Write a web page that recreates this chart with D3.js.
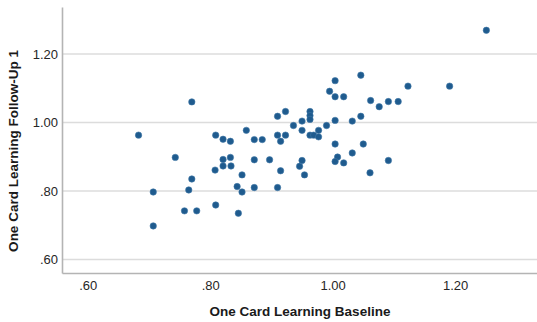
<!DOCTYPE html>
<html>
<head>
<meta charset="utf-8">
<script src="https://cdn.jsdelivr.net/npm/d3@7"></script>
<style>
  html, body { margin: 0; padding: 0; background: #fff; }
  svg { display: block; }
  text { font-family: "Liberation Sans", Arial, sans-serif; }
</style>
</head>
<body>
<svg id="chart" width="537" height="322"></svg>
<script>
// One Card Learning: baseline vs. follow-up 1 scores
const baseline = [
  1.251, 1.046, 1.004, 1.123, 1.191, 0.995, 1.004, 1.018, 1.062, 1.091,
  1.107, 1.076, 0.923, 0.963, 0.963, 0.910, 1.046, 0.963, 0.950, 1.004,
  1.032, 0.936, 0.990, 0.977, 0.950, 0.859, 0.910, 0.923, 0.963, 0.969,
  0.977, 0.915, 1.004, 1.050, 0.872, 0.885, 0.833, 0.821, 0.809, 0.683,
  0.770, 1.032, 1.008, 0.743, 0.821, 0.833, 0.872, 0.897, 0.950, 0.946,
  1.091, 1.004, 1.018, 1.061, 0.915, 0.954, 0.821, 0.834, 0.808, 0.852,
  0.770, 0.844, 0.872, 0.910, 0.852, 0.707, 0.765, 0.809, 0.758, 0.778,
  0.846, 0.707
];
const followUp1 = [
  1.269, 1.138, 1.122, 1.106, 1.106, 1.091, 1.075, 1.075, 1.064, 1.061,
  1.061, 1.046, 1.032, 1.032, 1.020, 1.018, 1.018, 1.009, 1.004, 1.006,
  1.004, 0.991, 0.991, 0.977, 0.977, 0.977, 0.963, 0.963, 0.963, 0.963,
  0.958, 0.945, 0.937, 0.937, 0.950, 0.950, 0.945, 0.951, 0.963, 0.963,
  1.060, 0.911, 0.899, 0.898, 0.892, 0.898, 0.891, 0.891, 0.889, 0.872,
  0.889, 0.886, 0.882, 0.853, 0.859, 0.847, 0.873, 0.873, 0.861, 0.847,
  0.835, 0.813, 0.810, 0.810, 0.797, 0.797, 0.803, 0.759, 0.742, 0.742,
  0.735, 0.698
];
const xTicks = [0.6, 0.8, 1.0, 1.2];
const yTicks = [0.6, 0.8, 1.0, 1.2];
const xTitle = "One Card Learning Baseline";
const yTitle = "One Card Learning Follow-Up 1";

const svg = d3.select("#chart");
const plotLeft = 62, plotRight = 537, plotTop = 7, plotBottom = 273;

const x = d3.scaleLinear().domain([0.558, 1.3337]).range([plotLeft, plotRight]);
const y = d3.scaleLinear().domain([0.5606, 1.337]).range([plotBottom, plotTop]);

const fmt = v => d3.format(".2f")(v).replace(/^0\./, ".");

// horizontal gridlines
svg.append("g").selectAll("line").data(yTicks).join("line")
  .attr("x1", plotLeft).attr("x2", plotRight)
  .attr("y1", d => y(d)).attr("y2", d => y(d))
  .attr("stroke", "#dcdcdc").attr("stroke-width", 1.6);

// axes built with d3 axis generators, restyled
const xAxis = svg.append("g")
  .attr("transform", `translate(0,${plotBottom})`)
  .call(d3.axisBottom(x).tickValues(xTicks).tickFormat(fmt).tickSize(0).tickPadding(8));
const yAxis = svg.append("g")
  .attr("transform", `translate(${plotLeft},0)`)
  .call(d3.axisLeft(y).tickValues(yTicks).tickFormat(fmt).tickSize(0).tickPadding(4));

[xAxis, yAxis].forEach(g => {
  g.select(".domain").attr("stroke", "#b4b4b4").attr("stroke-width", 1.6);
  g.selectAll("text")
    .attr("fill", "#262626")
    .style("font-size", "13px")
    .style("font-family", "'Liberation Sans', Arial, sans-serif");
});

// points
svg.append("g").selectAll("circle").data(baseline.map((b, i) => [b, followUp1[i]])).join("circle")
  .attr("cx", d => x(d[0]))
  .attr("cy", d => y(d[1]))
  .attr("r", 3.2)
  .attr("fill", "#1f5b8e")
  .attr("stroke", "#3f77a6")
  .attr("stroke-width", 0.6);

// axis titles
svg.append("text")
  .attr("x", 300).attr("y", 316)
  .attr("text-anchor", "middle")
  .attr("fill", "#1a1a1a")
  .style("font-size", "13.5px").style("font-weight", "bold")
  .text(xTitle);

svg.append("text")
  .attr("transform", "translate(18,151) rotate(-90)")
  .attr("text-anchor", "middle")
  .attr("fill", "#1a1a1a")
  .style("font-size", "13.5px").style("font-weight", "bold")
  .text(yTitle);
</script>
</body>
</html>
